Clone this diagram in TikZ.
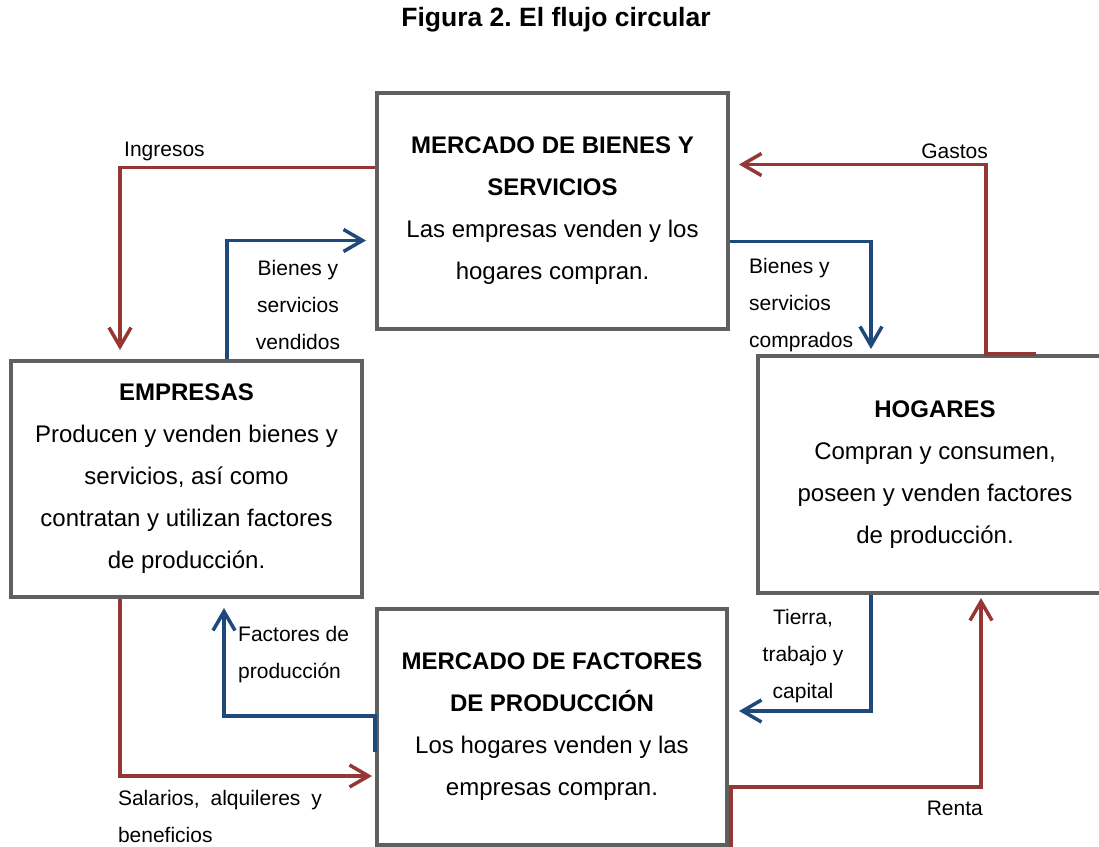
\documentclass[tikz,border=0pt]{standalone}
\usepackage{fontspec}
\setmainfont{Liberation Sans}
\usetikzlibrary{calc}
\usetikzlibrary{arrows.meta}

\definecolor{gris}{RGB}{96,96,96}
\definecolor{rojo}{RGB}{149,55,53}
\definecolor{azul}{RGB}{31,73,125}
\frenchspacing

\begin{document}
\begin{tikzpicture}[x=1pt, y=-1pt,
    caja/.style={draw=gris, line width=4pt, minimum width=351pt, minimum height=236pt,
        align=center, font=\fontsize{24}{42}\selectfont},
    flujo/.style={line width=3.5pt, -{Straight Barb[length=19pt,width=22pt]}},
    etiqueta/.style={font=\fontsize{21}{37}\selectfont, inner sep=0pt}]
    
    \useasboundingbox (0, 0) rectangle (1099, 846);
    \clip (0, 0) rectangle (1099, 846);
    
    \node[font=\fontsize{26.5}{30}\selectfont\bfseries] (titulo) at (556, 20) {Figura 2. El flujo circular};
    
    \node[caja] (bienes) at (552.5, 210.5) {\textbf{MERCADO DE BIENES Y}\\\textbf{SERVICIOS}\\Las empresas venden y los\\hogares compran.};
    \node[caja] (empresas) at (186.5, 479) {\textbf{EMPRESAS}\\Producen y venden bienes y\\servicios, así como\\contratan y utilizan factores\\de producción.};
    \node[caja, minimum width=354pt, minimum height=237pt] (hogares) at (935, 474.5) {\textbf{HOGARES}\\Compran y consumen,\\poseen y venden factores\\de producción.};
    \node[caja, minimum width=350pt] (factores) at (552, 727) {\textbf{MERCADO DE FACTORES}\\\textbf{DE PRODUCCIÓN}\\Los hogares venden y las\\empresas compran.};
    
    % flujos monetarios
    \draw[flujo, rojo] ([yshift=-77pt]bienes.north west) -| ([xshift=111pt, yshift=9pt]empresas.north west);
    \draw[flujo, rojo] ([xshift=280pt]hogares.north west) -- ([xshift=230pt]hogares.north west) |- ([xshift=9pt, yshift=-74pt]bienes.north east);
    \draw[flujo, rojo] ([xshift=2pt]factores.south east) -- ([xshift=2pt, yshift=-180pt]factores.north east) -| ([xshift=225pt, yshift=-3pt]hogares.south west);
    \draw[flujo, rojo] ([xshift=111pt]empresas.south west) |- ([xshift=-3pt, yshift=-169pt]factores.north west);
    
    % flujos reales
    \draw[flujo, azul] ([xshift=218pt]empresas.north west) |- ([xshift=-9pt, yshift=-150pt]bienes.north west);
    \draw[flujo, azul] ([yshift=-151pt]bienes.north east) -| ([xshift=115pt, yshift=5pt]hogares.north west);
    \draw[flujo, azul] ([xshift=115pt]hogares.south west) |- ([xshift=10pt, yshift=-104pt]factores.north east);
    \draw[flujo, azul] ([yshift=-145pt]factores.north west) -- ([yshift=-109pt]factores.north west) -| ([xshift=215pt, yshift=-9pt]empresas.south west);
    
    \node[etiqueta, anchor=west] (ingresos) at (124, 151) {Ingresos};
    \node[etiqueta, anchor=east] (gastos) at (988, 151) {Gastos};
    \node[etiqueta, align=center] (vendidos) at (298, 305) {Bienes y\\servicios\\vendidos};
    \node[etiqueta, align=left, anchor=west] (comprados) at (749, 305) {Bienes y\\servicios\\comprados};
    \node[etiqueta, align=center] (tierra) at (803, 656) {Tierra,\\trabajo y\\capital};
    \node[etiqueta, align=left, anchor=west] (factprod) at (238, 654.5) {Factores de\\producción};
    \node[etiqueta, anchor=east] (renta) at (983, 808) {Renta};
    \node[etiqueta, text width=204pt, align=justify] (salarios) at (220, 816.5) {\hyphenpenalty=10000 Salarios, alquileres y beneficios};
    
\end{tikzpicture}
\end{document}
